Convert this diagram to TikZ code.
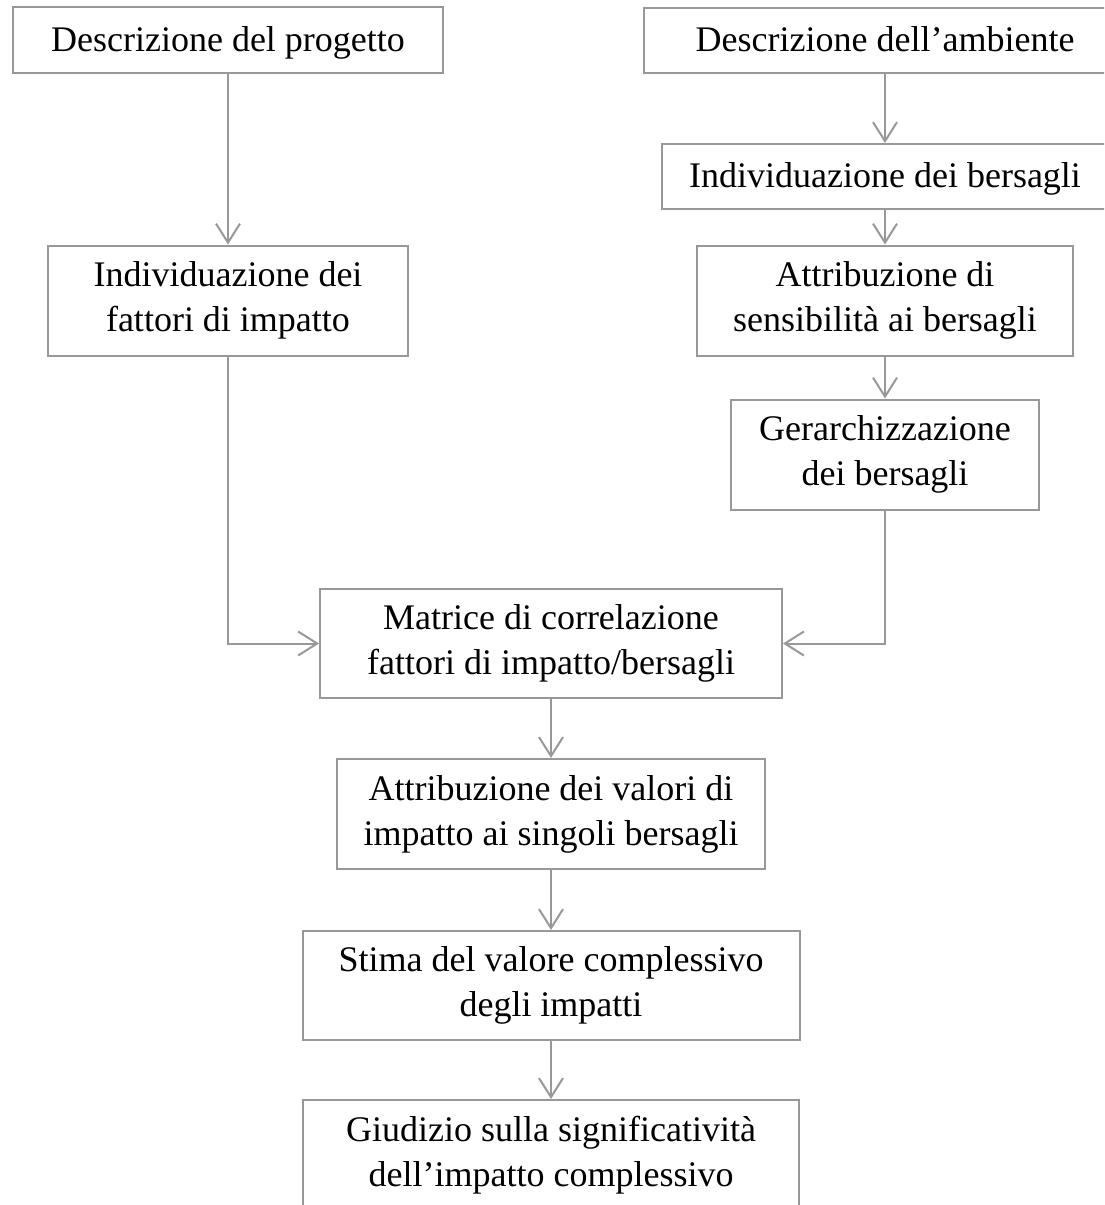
\documentclass[tikz,border=0pt]{standalone}
\usepackage{fontspec}
\setmainfont{Liberation Serif}
\usepackage{xcolor}
\usepackage{tikz}
\usetikzlibrary{arrows.meta}
\definecolor{flowgray}{RGB}{152,152,152}

\begin{document}
\begin{tikzpicture}[
    x=1pt, y=-1pt,
    box/.style={rectangle, draw=flowgray, line width=2pt, fill=white, align=center, inner sep=0pt, minimum height=110pt, font=\fontsize{36}{45}\selectfont},
    onebox/.style={box, minimum height=65pt, text height=28pt, text depth=6pt},
    flow/.style={-{Straight Barb[length=19pt,width=24pt,line width=2pt]}, line width=2pt, flowgray}
]
\useasboundingbox (0,0) rectangle (1104,1205);
\clip (0,0) rectangle (1104,1205);

% upper left column
\node[onebox, minimum width=430pt, minimum height=66pt] (progetto) at (228,40) {Descrizione del progetto};
\node[box, minimum width=360pt] (fattori) at (228,300.5) {Individuazione dei\\fattori di impatto};

% upper right column
\node[onebox, minimum width=482pt] (ambiente) at (885,40.5) {Descrizione dell’ambiente};
\node[onebox, minimum width=446pt] (bersagli) at (885,176.5) {Individuazione dei bersagli};
\node[box, minimum width=376pt] (sensibilita) at (885,300.5) {Attribuzione di\\sensibilità ai bersagli};
\node[box, minimum width=308pt] (gerarchia) at (885,454.5) {Gerarchizzazione\\dei bersagli};

% central column
\node[box, minimum width=462pt, minimum height=109pt] (matrice) at (551,643.5) {Matrice di correlazione\\fattori di impatto/bersagli};
\node[box, minimum width=428pt] (valori) at (551,814) {Attribuzione dei valori di\\impatto ai singoli bersagli};
\node[box, minimum width=497pt, minimum height=109pt] (stima) at (551,985.5) {Stima del valore complessivo\\degli impatti};
\node[box, minimum width=496pt] (giudizio) at (551,1155) {Giudizio sulla significatività\\dell’impatto complessivo};

\draw[flow] (progetto) -- (fattori);
\draw[flow] (ambiente) -- (bersagli);
\draw[flow] (bersagli) -- (sensibilita);
\draw[flow] (sensibilita) -- (gerarchia);
\draw[flow] (fattori.south) |- (matrice.west);
\draw[flow] (gerarchia.south) |- (matrice.east);
\draw[flow] (matrice) -- (valori);
\draw[flow] (valori) -- (stima);
\draw[flow] (stima) -- (giudizio);
\end{tikzpicture}
\end{document}
